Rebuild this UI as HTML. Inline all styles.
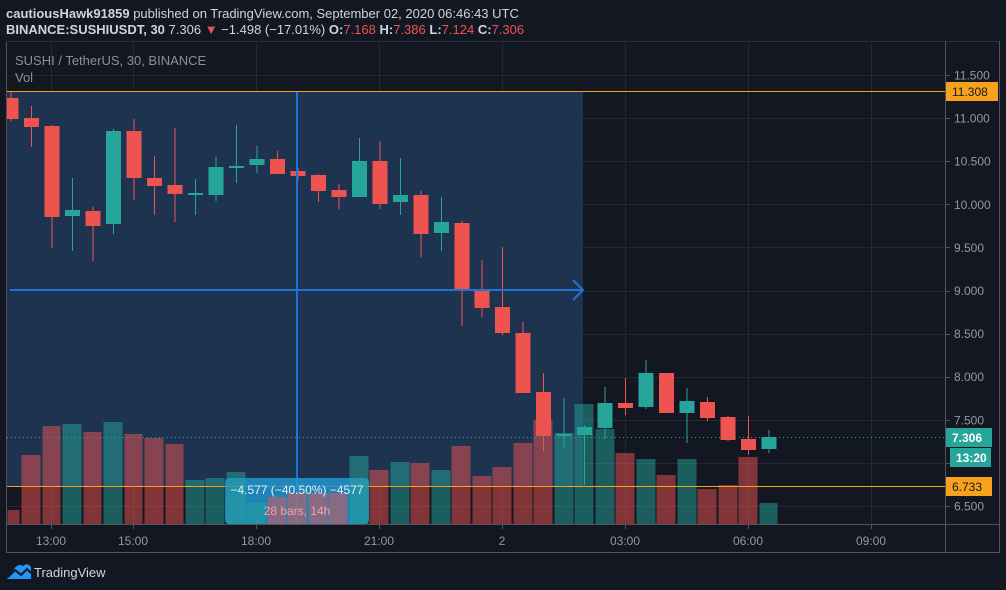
<!DOCTYPE html>
<html><head><meta charset="utf-8"><style>
html,body{margin:0;padding:0;background:#131722;width:1006px;height:590px;overflow:hidden;font-family:"Liberation Sans",sans-serif}
svg{position:absolute;left:0;top:0}
</style></head><body>
<svg id="s" width="1006" height="590" xmlns="http://www.w3.org/2000/svg">
<rect width="1006" height="590" fill="#131722"/>
<text x="6" y="18" font-size="13" fill="#d1d4dc"><tspan font-weight="bold">cautiousHawk91859</tspan> published on TradingView.com, September 02, 2020 06:46:43 UTC</text>
<text x="6" y="34" font-size="13" fill="#d1d4dc"><tspan font-weight="bold">BINANCE:SUSHIUSDT, 30</tspan> 7.306 <tspan fill="#ef5350">▼</tspan> −1.498 (−17.01%) <tspan font-weight="bold">O:</tspan><tspan fill="#ef5350">7.168</tspan> <tspan font-weight="bold">H:</tspan><tspan fill="#ef5350">7.386</tspan> <tspan font-weight="bold">L:</tspan><tspan fill="#ef5350">7.124</tspan> <tspan font-weight="bold">C:</tspan><tspan fill="#ef5350">7.306</tspan></text>
<g id="grid"></g>
<rect x="7" y="91" width="576" height="395" fill="#1e3350"/>
<g id="vol"></g>
<g id="cdl"></g>
<text x="15" y="65" font-size="13" fill="#8a8f9c">SUSHI / TetherUS, 30, BINANCE</text>
<text x="15" y="82" font-size="13" fill="#8a8f9c">Vol</text>
<line x1="7" y1="91.5" x2="945" y2="91.5" stroke="#f7a21b" stroke-width="1"/>
<line x1="7" y1="486.5" x2="945" y2="486.5" stroke="#f7a21b" stroke-width="1"/>
<line x1="7" y1="437.5" x2="945" y2="437.5" stroke="#26a69a" stroke-width="1" stroke-dasharray="1,3"/>
<line x1="10" y1="290" x2="582" y2="290" stroke="#1e74d4" stroke-width="2"/>
<polyline points="573,280 583,290 573,300" fill="none" stroke="#1e74d4" stroke-width="2"/>
<line x1="297" y1="92" x2="297" y2="524" stroke="#1e74d4" stroke-width="2"/>
<rect x="225" y="478" width="144" height="46" rx="4" fill="#2196d0" fill-opacity="0.85"/>
<g id="vol2"></g>
<text x="297" y="494" font-size="12" fill="#e8eefc" text-anchor="middle">−4.577 (−40.50%) −4577</text>
<text x="297" y="515" font-size="12" fill="#f0a5a5" text-anchor="middle">28 bars, 14h</text>
<g id="axis"></g>
</svg>
<script>
const NS="http://www.w3.org/2000/svg";
function el(p,t,a,txt){const e=document.createElementNS(NS,t);for(const k in a)e.setAttribute(k,a[k]);if(txt!==undefined)e.textContent=txt;document.getElementById(p).appendChild(e);return e;}
const Y=p=>75+(11.5-p)*86.2;
const prices=[11.5,11,10.5,10,9.5,9,8.5,8,7.5,7,6.5];
prices.forEach(p=>el('grid','line',{x1:7,x2:945,y1:Math.round(Y(p))+.5,y2:Math.round(Y(p))+.5,stroke:'#242836'}));
const times=[[51,'13:00'],[133,'15:00'],[256,'18:00'],[379,'21:00'],[502,'2'],[625,'03:00'],[748,'06:00'],[871,'09:00']];
times.forEach(t=>el('grid','line',{x1:t[0]+.5,x2:t[0]+.5,y1:42,y2:524,stroke:'#242836'}));
const V=[[7,20,510,0],[21,41,455,0],[42,61,426,0],[62,82,424,1],[83,102,432,0],[103,123,422,1],[124,143,434,0],[144,164,438,0],[165,184,444,0],[185,205,480,1],[205,225,478,1],[226,246,472,1],[246,266,503,1],[267,287,497,0],[287,307,493,0],[308,328,493,0],[328,348,493,0],[349,369,456,1],[369,389,470,0],[390,410,462,1],[410,430,463,0],[431,451,470,1],[451,471,446,0],[472,492,476,0],[492,512,467,0],[513,533,443,0],[533,553,420,0],[554,574,433,1],[574,594,404,1],[595,615,429,1],[615,635,453,0],[636,656,459,1],[656,676,475,0],[677,697,459,1],[697,717,489,0],[718,738,485,0],[738,758,457,0],[759,778,503,1]];
V.forEach(v=>{const inBox=v[0]>=225&&v[1]<=369;el(inBox?'vol2':'vol','rect',{x:v[0]+0.5,y:v[2],width:v[1]-v[0]-1,height:524-v[2],fill:v[3]?'#26a69a':'#ef5350','fill-opacity':0.5});});
const C=[[11,98,119,91,121,0],[31.5,118,127,106,147,0],[52,126,217,125,248,0],[72.5,210,216,178,251,1],[93,211,226,207,261,0],[113.5,131,224,129,234,1],[134,131,178,119,200,0],[154.5,178,186,156,215,0],[175,185,194,128,222,0],[195.5,193,195,179,215,1],[216,167,195,157,201,1],[236.5,166,168,125,183,1],[257,159,165,146,173,1],[277.5,159,174,151,174,0],[298,171,176,168,181,0],[318.5,175,191,174,202,0],[339,190,197,184,209,0],[359.5,161,197,138,197,1],[380,161,204,141,209,0],[400.5,195,202,158,215,1],[421,195,234,191,257,0],[441.5,222,233,197,251,1],[462,223,291,221,326,0],[482,289,308,260,317,0],[502.5,307,333,247,335,0],[523,333,393,322,393,0],[543.5,392,436,373,451,0],[564,434,436,398,448,1],[584.5,427,435,425,485,1],[605,403,428,387,439,1],[625.5,403,408,378,415,0],[646,373,407,360,409,1],[666.5,373,413,373,413,0],[687,401,413,388,443,1],[707.5,402,418,397,421,0],[728,417,440,416,441,0],[748.5,439,450,416,455,0],[769,437,449,430,453,1]];
C.forEach(c=>{const col=c[5]?'#26a69a':'#ef5350';el('cdl','line',{x1:c[0],x2:c[0],y1:c[3],y2:c[4],stroke:col,'stroke-width':1});let x0=Math.max(7,c[0]-7.5);el('cdl','rect',{x:x0,y:c[1],width:c[0]+7.5-x0,height:Math.max(2,c[2]-c[1]),fill:col});});
el('axis','rect',{x:946,y:42,width:53,height:510,fill:'#131722'});
el('axis','rect',{x:7,y:525,width:938,height:27,fill:'#131722'});
el('axis','line',{x1:6.5,x2:6.5,y1:41,y2:553,stroke:'#50535e'});
el('axis','line',{x1:6,x2:1000,y1:41.5,y2:41.5,stroke:'#2a2e39'});
el('axis','line',{x1:945.5,x2:945.5,y1:41,y2:552,stroke:'#50535e'});
el('axis','line',{x1:999.5,x2:999.5,y1:41,y2:552,stroke:'#50535e'});
el('axis','line',{x1:6,x2:1000,y1:524.5,y2:524.5,stroke:'#50535e'});
el('axis','line',{x1:6,x2:1000,y1:552.5,y2:552.5,stroke:'#50535e'});
prices.forEach(p=>{if(p==7)return;el('axis','line',{x1:946,x2:950,y1:Math.round(Y(p))+.5,y2:Math.round(Y(p))+.5,stroke:'#50535e'});el('axis','text',{x:954,y:Y(p)+4.5,'font-size':12,fill:'#9598a1'},p.toFixed(3));});
times.forEach(t=>{el('axis','line',{x1:t[0]+.5,x2:t[0]+.5,y1:525,y2:529,stroke:'#50535e'});el('axis','text',{x:t[0],y:545,'font-size':12,fill:'#9598a1','text-anchor':'middle'},t[1]);});
function lab(x,y,w,h,bg,fg,txt,bold){el('axis','rect',{x,y,width:w,height:h,fill:bg});el('axis','text',{x:x+6,y:y+14,'font-size':12,fill:fg,'font-weight':bold?'bold':'normal'},txt);}
el('axis','line',{x1:946,x2:950,y1:Math.round(Y(7))+.5,y2:Math.round(Y(7))+.5,stroke:'#50535e'});
lab(946,82,52,19,'#f7a21b','#131722','11.308');
lab(946,477,46,19,'#f7a21b','#131722','6.733');
lab(946,428,46,19,'#26a69a','#ffffff','7.306',true);
lab(950,448,41,19,'#26a69a','#ffffff','13:20',true);
el('axis','path',{d:'M7 579 L14 569 Q18 563 23 566 Q27 562 31 567 L31 579 Z',fill:'#2196f3'});
el('axis','polyline',{points:'8,577 15,570 21,575 27,569 31,573',fill:'none',stroke:'#131722','stroke-width':2});
el('axis','text',{x:34,y:577,'font-size':13,fill:'#d1d4dc'},'TradingView');
</script>
</body></html>
